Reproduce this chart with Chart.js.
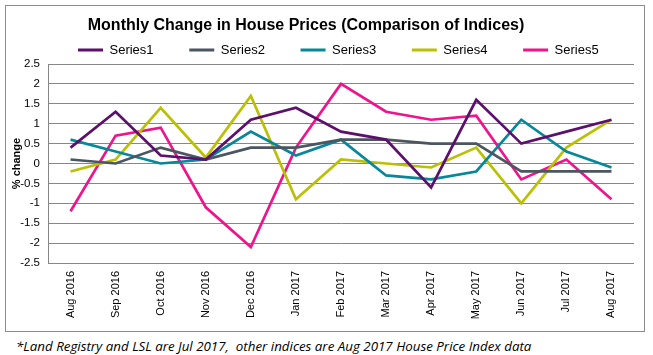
<!DOCTYPE html>
<html><head><meta charset="utf-8">
<script src="https://cdn.jsdelivr.net/npm/chart.js@4.4.1/dist/chart.umd.min.js"></script>
<style>
html,body{margin:0;padding:0;background:#fff;width:653px;height:355px;overflow:hidden;}
#frame{position:absolute;left:5px;top:5px;width:640px;height:327px;border:1px solid #8c8c8c;box-sizing:border-box;}
#c{position:absolute;left:6px;top:6px;}
#note{position:absolute;left:16px;top:340px;font-family:'Open Sans',sans-serif;font-style:italic;font-size:12px;white-space:pre;color:#000;line-height:1;}
</style></head><body>
<div id="frame"></div>
<canvas id="c" width="637" height="324"></canvas>
<div id="note">*Land Registry and LSL are Jul 2017,  other indices are Aug 2017 House Price Index data</div>
<script>
const categories = ['Aug 2016','Sep 2016','Oct 2016','Nov 2016','Dec 2016','Jan 2017','Feb 2017','Mar 2017','Apr 2017','May 2017','Jun 2017','Jul 2017','Aug 2017'];
const series1 = [0.4, 1.3, 0.2, 0.1, 1.1, 1.4, 0.8, 0.6, -0.6, 1.6, 0.5, 0.8, 1.1];
const series2 = [0.1, 0.0, 0.4, 0.1, 0.4, 0.4, 0.6, 0.6, 0.5, 0.5, -0.2, -0.2, -0.2];
const series3 = [0.6, 0.3, 0.0, 0.1, 0.8, 0.2, 0.6, -0.3, -0.4, -0.2, 1.1, 0.3, -0.1];
const series4 = [-0.2, 0.1, 1.4, 0.15, 1.7, -0.9, 0.1, 0.0, -0.1, 0.4, -1.0, 0.4, 1.1];
const series5 = [-1.2, 0.7, 0.9, -1.1, -2.1, 0.4, 2.0, 1.3, 1.1, 1.2, -0.4, 0.1, -0.9];
const seriesNames = ['Series1','Series2','Series3','Series4','Series5'];
const seriesColors = ['#5c0f6c','#4b5661','#07879a','#bac004','#ef138c'];
const titleText = 'Monthly Change in House Prices (Comparison of Indices)';
const yAxisTitle = '% change';

// fit footnote width
(function(){
  const note = document.getElementById('note');
  const cx = document.createElement('canvas').getContext('2d');
  cx.font = 'italic 12px "Open Sans"';
  const w = cx.measureText(note.textContent).width;
  note.style.fontSize = (12 * 516 / w) + 'px';
})();

Chart.defaults.font.family = "'Liberation Sans', Arial, sans-serif";
Chart.defaults.color = '#000';

const LEGEND_X = 72, LEGEND_Y = 44, TITLE_DX = -14;
const placePlugin = {
  id: 'place',
  afterLayout(chart) {
    const lg = chart.legend;
    if (lg) {
      const P = lg.options.labels.padding;
      lg.left = LEGEND_X - P; lg.right = chart.width;
      lg.top = LEGEND_Y - 6.5 - P; lg.bottom = LEGEND_Y + 12;
    }
    const tb = chart.titleBlock;
    if (tb) { tb.left += TITLE_DX; tb.right += TITLE_DX; }
  }
};

const allSeries = [series1, series2, series3, series4, series5];
new Chart(document.getElementById('c'), {
  type: 'line',
  data: {
    labels: categories,
    datasets: allSeries.map((d, i) => ({
      label: seriesNames[i], data: d,
      borderColor: seriesColors[i], backgroundColor: seriesColors[i],
      borderWidth: 2.7, pointRadius: 0, tension: 0, fill: false
    }))
  },
  options: {
    responsive: false, animation: false, devicePixelRatio: 1,
    layout: { padding: { left: 0, right: 9, top: 0, bottom: 0 } },
    plugins: {
      title: { display: true, text: titleText, color: '#000',
        font: { size: 16, weight: 'bold' }, padding: { top: 10.1, bottom: 0 } },
      legend: {
        display: true, position: 'top', align: 'start', maxHeight: 28.7,
        labels: {
          boxWidth: 25, boxHeight: 3, padding: 35.7, color: '#000', font: { size: 13 },
          generateLabels(chart) {
            return Chart.defaults.plugins.legend.labels.generateLabels(chart).map(l => Object.assign(l, { lineWidth: 0 }));
          }
        }
      },
      tooltip: { enabled: false }
    },
    scales: {
      x: {
        offset: true,
        grid: { display: false, drawTicks: false },
        border: { display: false },
        ticks: { minRotation: 90, maxRotation: 90, autoSkip: false, padding: 8, color: '#000', font: { size: 11 } },
        afterFit(s) { s.height = 67; }
      },
      y: {
        min: -2.5, max: 2.5,
        grid: { color: '#878787', drawTicks: false },
        border: { display: true, color: '#878787' },
        ticks: { stepSize: 0.5, padding: 8, color: '#000', font: { size: 11.5 },
          callback: v => String(Math.round(v * 10) / 10) },
        title: { display: true, text: yAxisTitle, color: '#000', font: { size: 11, weight: 'bold' }, padding: { top: 4.4, bottom: 0 } },
        afterFit(s) { s.width = 42; }
      }
    }
  },
  plugins: [placePlugin]
});
</script>
</body></html>
